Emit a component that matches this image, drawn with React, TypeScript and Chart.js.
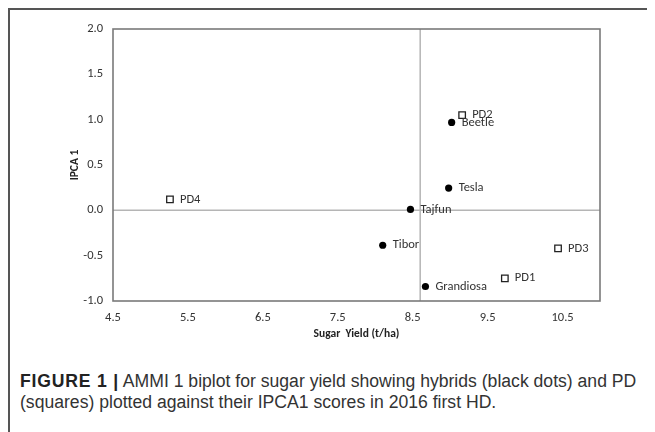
import React, { useEffect, useRef } from 'react';
import { Chart, registerables } from 'chart.js';
Chart.register(...registerables);

const hybridNames = ['Beetle', 'Tesla', 'Tajfun', 'Tibor', 'Grandiosa'];
const hybridYield = [9.02, 8.98, 8.47, 8.1, 8.67];
const hybridIPCA = [0.97, 0.245, 0.01, -0.385, -0.84];
const pdNames = ['PD1', 'PD2', 'PD3', 'PD4'];
const pdYield = [9.73, 9.16, 10.44, 5.26];
const pdIPCA = [-0.75, 1.05, -0.42, 0.12];
const grandMeanYield = 8.6;
const xTicks = [4.5, 5.5, 6.5, 7.5, 8.5, 9.5, 10.5];
const yTicks = [-1.0, -0.5, 0.0, 0.5, 1.0, 1.5, 2.0];
const xMin = 4.5;
const xMax = 11.0;
const yMin = -1.0;
const yMax = 2.0;
const xTitle = 'Sugar  Yield (t/ha)';
const yTitle = 'IPCA 1';

const CHART_FONT = 'Carlito, "Liberation Sans Narrow", "DejaVu Sans Condensed", sans-serif';

const decorPlugin = {
  id: 'decor',
  beforeDatasetsDraw(chart: any) {
    const { ctx, chartArea: a, scales } = chart;
    ctx.save();
    ctx.strokeStyle = '#b5b5b5';
    ctx.lineWidth = 1.5;
    const xm = scales.x.getPixelForValue(grandMeanYield);
    const y0 = scales.y.getPixelForValue(0);
    ctx.beginPath();
    ctx.moveTo(xm, a.top);
    ctx.lineTo(xm, a.bottom);
    ctx.moveTo(a.left, y0);
    ctx.lineTo(a.right, y0);
    ctx.stroke();
    ctx.strokeStyle = '#7a7a7a';
    ctx.lineWidth = 1.6;
    ctx.strokeRect(a.left, a.top, a.right - a.left, a.bottom - a.top);
    ctx.restore();
  },
  afterDatasetsDraw(chart: any) {
    const { ctx, chartArea: a } = chart;
    ctx.save();
    ctx.fillStyle = '#333';
    ctx.font = `12.5px ${CHART_FONT}`;
    ctx.textBaseline = 'middle';
    ctx.textAlign = 'left';
    const drawLabels = (idx: number, names: string[]) => {
      const meta = chart.getDatasetMeta(idx);
      meta.data.forEach((el: any, i: number) => {
        ctx.fillText(names[i], el.x + 10, el.y);
      });
    };
    drawLabels(0, hybridNames);
    drawLabels(1, pdNames);
    ctx.fillStyle = '#222';
    ctx.font = `bold 11.5px ${CHART_FONT}`;
    ctx.textAlign = 'center';
    ctx.fillText(xTitle, (a.left + a.right) / 2, 326);
    ctx.translate(67, (a.top + a.bottom) / 2);
    ctx.rotate(-Math.PI / 2);
    ctx.fillText(yTitle, 0, 0);
    ctx.restore();
  },
};

export default function App() {
  const ref = useRef<HTMLCanvasElement>(null);
  useEffect(() => {
    if (!ref.current) return;
    const tickFont = { family: CHART_FONT, size: 12.5 };
    const chart = new Chart(ref.current, {
      type: 'scatter',
      data: {
        datasets: [
          {
            label: 'Hybrids',
            data: hybridYield.map((x, i) => ({ x, y: hybridIPCA[i] })),
            pointStyle: 'circle',
            pointRadius: 3.6,
            backgroundColor: '#000',
            borderColor: '#000',
            borderWidth: 0,
          },
          {
            label: 'PD',
            data: pdYield.map((x, i) => ({ x, y: pdIPCA[i] })),
            pointStyle: 'rect',
            pointRadius: 4.6,
            backgroundColor: '#fff',
            borderColor: '#222',
            borderWidth: 1.3,
          },
        ],
      },
      options: {
        animation: false,
        responsive: false,
        layout: { padding: { left: 0, top: 21, right: 48, bottom: 21 } },
        plugins: { legend: { display: false }, tooltip: { enabled: false } },
        scales: {
          x: {
            type: 'linear',
            min: xMin,
            max: xMax,
            afterBuildTicks: (s: any) => {
              s.ticks = xTicks.map((v) => ({ value: v }));
            },
            afterFit: (s: any) => {
              s.height = 30;
            },
            grid: { display: false, drawTicks: false },
            border: { display: false },
            ticks: {
              padding: 9,
              color: '#333',
              font: tickFont,
              callback: (v: any) => Number(v).toFixed(1),
            },
          },
          y: {
            type: 'linear',
            min: yMin,
            max: yMax,
            afterBuildTicks: (s: any) => {
              s.ticks = yTicks.map((v) => ({ value: v }));
            },
            afterFit: (s: any) => {
              s.width = 105;
            },
            grid: { display: false, drawTicks: false },
            border: { display: false },
            ticks: {
              padding: 10,
              color: '#333',
              font: tickFont,
              callback: (v: any) => Number(v).toFixed(1),
            },
          },
        },
      },
      plugins: [decorPlugin],
    });
    return () => chart.destroy();
  }, []);

  return (
    <div style={{ position: 'relative', width: 647, height: 424 }}>
      <canvas
        ref={ref}
        width={640}
        height={344}
        style={{ position: 'absolute', left: 0, top: 0, width: 640, height: 344 }}
      />
      <div style={{ position: 'absolute', left: 0, top: 0, width: 647, height: 2, background: '#555' }} />
      <div style={{ position: 'absolute', left: 0, top: 0, width: 2, height: 424, background: '#555' }} />
      <div
        style={{
          position: 'absolute',
          left: 12,
          top: 363,
          width: 640,
          fontFamily: '"Liberation Sans", Arial, sans-serif',
          fontSize: 17.6,
          lineHeight: '21px',
          color: '#333',
        }}
      >
        <b style={{ color: '#222', letterSpacing: 0.8 }}>FIGURE 1 |</b> AMMI 1 biplot for sugar yield showing hybrids (black dots) and PD (squares) plotted against their IPCA1 scores in 2016 first HD.
      </div>
    </div>
  );
}
